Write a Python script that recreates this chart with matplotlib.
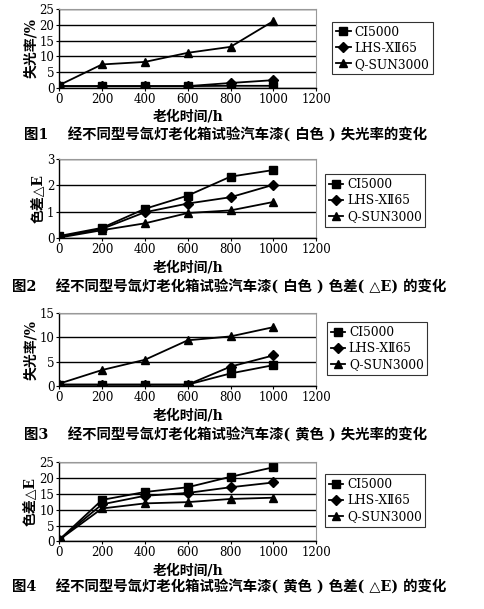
import matplotlib.pyplot as plt

plt.rcParams['font.family'] = ['DejaVu Serif', 'Noto Sans CJK SC']

hours = [0, 200, 400, 600, 800, 1000]
series_names = ['CI5000', 'LHS-XⅡ65', 'Q-SUN3000']
markers = ['s', 'D', '^']

# fig 1: white paint, gloss loss %
white_gloss = [
    [0.5, 0.5, 0.5, 0.5, 0.6, 0.6],
    [0.5, 0.5, 0.5, 0.5, 1.5, 2.4],
    [0.8, 7.4, 8.2, 11.1, 13.0, 21.2],
]
# fig 2: white paint, colour difference
white_de = [
    [0.08, 0.39, 1.11, 1.61, 2.33, 2.58],
    [0.05, 0.35, 0.98, 1.31, 1.55, 2.02],
    [0.02, 0.30, 0.56, 0.95, 1.05, 1.37],
]
# fig 3: yellow paint, gloss loss %
yellow_gloss = [
    [0.3, 0.3, 0.3, 0.3, 2.6, 4.3],
    [0.3, 0.3, 0.3, 0.3, 4.0, 6.3],
    [0.5, 3.3, 5.4, 9.4, 10.2, 12.1],
]
# fig 4: yellow paint, colour difference
yellow_de = [
    [0.5, 13.1, 15.6, 17.1, 20.4, 23.4],
    [0.5, 11.7, 14.4, 15.3, 17.1, 18.6],
    [0.5, 10.4, 12.0, 12.4, 13.4, 13.8],
]

panels = [
    (white_gloss, '失光率/%', 25, 5, '图1　 经不同型号氙灯老化箱试验汽车漆( 白色 ) 失光率的变化'),
    (white_de, '色差△E', 3, 1, '图2　 经不同型号氙灯老化箱试验汽车漆( 白色 ) 色差( △E) 的变化'),
    (yellow_gloss, '失光率/%', 15, 5, '图3　 经不同型号氙灯老化箱试验汽车漆( 黄色 ) 失光率的变化'),
    (yellow_de, '色差△E', 25, 5, '图4　 经不同型号氙灯老化箱试验汽车漆( 黄色 ) 色差( △E) 的变化'),
]

# axes boxes [left, bottom, width, height] and caption positions (figure fraction)
boxes = [
    [0.122, 0.856, 0.530, 0.129],
    [0.122, 0.609, 0.530, 0.130],
    [0.122, 0.366, 0.530, 0.120],
    [0.122, 0.111, 0.530, 0.130],
]
captions_xy = [(0.05, 0.778), (0.025, 0.529), (0.05, 0.286), (0.025, 0.036)]
legend_anchor = [(0.685, 0.964), (0.670, 0.714), (0.674, 0.471), (0.670, 0.221)]

fig = plt.figure(figsize=(4.85, 6.09), dpi=100)

for i, (data, ylabel, ymax, ystep, caption) in enumerate(panels):
    ax = fig.add_axes(boxes[i])
    for vals, name, m in zip(data, series_names, markers):
        ax.plot(hours, vals, color='black', lw=1.3, marker=m,
                ms=5.5 if m != 'D' else 5, label=name)
    ax.set_xlim(0, 1200)
    ax.set_ylim(0, ymax)
    ax.set_xticks(range(0, 1201, 200))
    ax.set_yticks(range(0, ymax + 1, ystep))
    ax.yaxis.grid(True, color='black', lw=1)
    ax.set_axisbelow(True)
    for side in ['top', 'right']:
        ax.spines[side].set_color('#999999')
        ax.spines[side].set_linewidth(0.8)
    for side in ['left', 'bottom']:
        ax.spines[side].set_color('black')
        ax.spines[side].set_linewidth(1)
    ax.tick_params(labelsize=8.5, length=2, pad=1.5)
    ax.set_ylabel(ylabel, fontsize=10, fontweight='bold', labelpad=1)
    ax.set_xlabel('老化时间/h', fontsize=10, fontweight='bold', labelpad=3)
    leg = fig.legend(*ax.get_legend_handles_labels(), loc='upper left',
                     bbox_to_anchor=legend_anchor[i], fontsize=8.8,
                     frameon=True, fancybox=False, edgecolor='black',
                     handlelength=1.2, handletextpad=0.3, borderpad=0.3,
                     labelspacing=0.25, borderaxespad=0)
    leg.get_frame().set_linewidth(0.8)
    fig.text(captions_xy[i][0], captions_xy[i][1], caption, fontsize=10.4,
             fontweight='bold', ha='left', va='center')

fig.savefig('out.png', dpi=100)
plt.close()
